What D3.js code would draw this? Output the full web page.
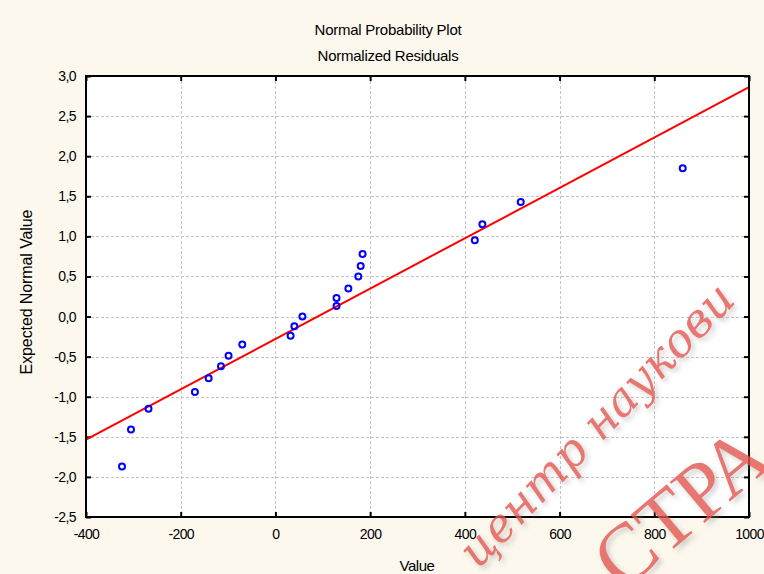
<!DOCTYPE html>
<html><head><meta charset="utf-8">
<script src="https://cdn.jsdelivr.net/npm/d3@7"></script>
<style>html,body{margin:0;padding:0;background:#fcf8ee;}svg{display:block;}</style>
</head><body>
<svg id="chart" width="764" height="574"></svg>
<script>
// ---- data ----
const title = "Normal Probability Plot";
const subtitle = "Normalized Residuals";
const xLabel = "Value";
const yLabel = "Expected Normal Value";
const residualValues = [-324, -305, -268, -170, -141, -115, -99, -70, 32, 40, 57, 129, 129, 154, 175, 180, 184, 421, 437, 518, 860];
const expectedNormal = [-1.87, -1.41, -1.15, -0.94, -0.77, -0.62, -0.49, -0.35, -0.24, -0.12, 0.00, 0.13, 0.23, 0.35, 0.50, 0.63, 0.78, 0.95, 1.15, 1.43, 1.85];
const fitLineX = [-400, 1000];
const fitLineY = [-1.535, 2.86];
const xTicks = [-400, -200, 0, 200, 400, 600, 800, 1000];
const yTicks = [-2.5, -2.0, -1.5, -1.0, -0.5, 0.0, 0.5, 1.0, 1.5, 2.0, 2.5, 3.0];
const watermark1 = "центр наукови";
const watermark2 = "СТРА";

// ---- layout ----
const svg = d3.select("#chart");
const L = 86, T = 76, R = 749, B = 517;
const x = d3.scaleLinear().domain([-400, 1000]).range([L, R]);
const y = d3.scaleLinear().domain([-2.5, 3.0]).range([B, T]);
const fmtY = v => d3.format(".1f")(v).replace(".", ",").replace("−", "-");
const fmtX = v => String(v);

svg.append("rect").attr("width", 764).attr("height", 574).attr("fill", "#fcf8ee");
svg.append("rect").attr("x", L).attr("y", T).attr("width", R - L).attr("height", B - T).attr("fill", "#ffffff");

// grid
const grid = svg.append("g").attr("stroke", "#c4c4c4").attr("stroke-width", 1).attr("stroke-dasharray", "3,2");
grid.selectAll("line.gx").data(xTicks.slice(1, -1)).join("line")
  .attr("x1", d => Math.round(x(d)) + 0.5).attr("x2", d => Math.round(x(d)) + 0.5)
  .attr("y1", T).attr("y2", B);
grid.selectAll("line.gy").data(yTicks.slice(1, -1)).join("line")
  .attr("y1", d => Math.round(y(d)) + 0.5).attr("y2", d => Math.round(y(d)) + 0.5)
  .attr("x1", L).attr("x2", R);

// axes (inward ticks, all four sides)
const fontTick = "Liberation Sans, Arial, sans-serif";
const axB = d3.axisBottom(x).tickValues(xTicks).tickSize(-5).tickPadding(12).tickFormat(fmtX);
const axT = d3.axisTop(x).tickValues(xTicks).tickSize(-5).tickFormat("");
const axLf = d3.axisLeft(y).tickValues(yTicks).tickSize(-5).tickPadding(10).tickFormat(fmtY);
const axRt = d3.axisRight(y).tickValues(yTicks).tickSize(-5).tickFormat("");
function style(g) {
  g.select(".domain").remove();
  g.selectAll(".tick line").attr("stroke", "#000").attr("stroke-width", 2);
  g.selectAll("text").attr("fill", "#000").attr("font-family", fontTick).attr("font-size", 14).attr("letter-spacing", "-0.6");
}
svg.append("g").attr("transform", `translate(0,${B})`).call(axB).call(style);
svg.append("g").attr("transform", `translate(0,${T})`).call(axT).call(style);
svg.append("g").attr("transform", `translate(${L},0)`).call(axLf).call(style);
svg.append("g").attr("transform", `translate(${R},0)`).call(axRt).call(style);

// fit line
svg.append("clipPath").attr("id", "plotclip").append("rect")
  .attr("x", L).attr("y", T).attr("width", R - L).attr("height", B - T);
const line = d3.line().x(d => x(d[0])).y(d => y(d[1]));
svg.append("path").datum(fitLineX.map((v, i) => [v, fitLineY[i]]))
  .attr("d", line).attr("fill", "none").attr("stroke", "#ff0000").attr("stroke-width", 2)
  .attr("clip-path", "url(#plotclip)");

// points
svg.append("g").selectAll("circle").data(residualValues.map((v, i) => [v, expectedNormal[i]])).join("circle")
  .attr("cx", d => x(d[0])).attr("cy", d => y(d[1])).attr("r", 3)
  .attr("fill", "none").attr("stroke", "#0000ff").attr("stroke-width", 2);

// frame
svg.append("rect").attr("x", L).attr("y", T).attr("width", R - L).attr("height", B - T)
  .attr("fill", "none").attr("stroke", "#000").attr("stroke-width", 2);

// titles
const fontT = "Liberation Sans, Arial, sans-serif";
svg.append("text").attr("x", 388).attr("y", 35).attr("text-anchor", "middle")
  .attr("font-family", fontT).attr("font-size", 15).attr("letter-spacing", "-0.25").text(title);
svg.append("text").attr("x", 388).attr("y", 61).attr("text-anchor", "middle")
  .attr("font-family", fontT).attr("font-size", 15).attr("letter-spacing", "-0.25").text(subtitle);
svg.append("text").attr("x", 417).attr("y", 571).attr("text-anchor", "middle")
  .attr("font-family", fontT).attr("font-size", 15).attr("letter-spacing", "-0.5").text(xLabel);
svg.append("text").attr("transform", "translate(32,292) rotate(-90)").attr("text-anchor", "middle")
  .attr("font-family", fontT).attr("font-size", 16).attr("letter-spacing", "-0.1").text(yLabel);

// watermark
const defs = svg.append("defs");
const f = defs.append("filter").attr("id", "wmshadow").attr("x", "-20%").attr("y", "-20%").attr("width", "140%").attr("height", "140%");
f.append("feDropShadow").attr("dx", 3).attr("dy", 3).attr("stdDeviation", 2.5).attr("flood-color", "#888").attr("flood-opacity", 0.5);
const wm = svg.append("g").attr("filter", "url(#wmshadow)").attr("opacity", 0.8);
wm.append("text").attr("transform", "translate(478,570) rotate(-46)")
  .attr("font-family", "DejaVu Serif, serif").attr("font-style", "italic").attr("font-size", 46)
  .attr("fill", "#e2564f").text(watermark1);
wm.append("text").attr("transform", "translate(622,592) rotate(-40)")
  .attr("font-family", "Liberation Serif, serif").attr("font-size", 82)
  .attr("fill", "#e2564f").text(watermark2);
</script>
</body></html>
